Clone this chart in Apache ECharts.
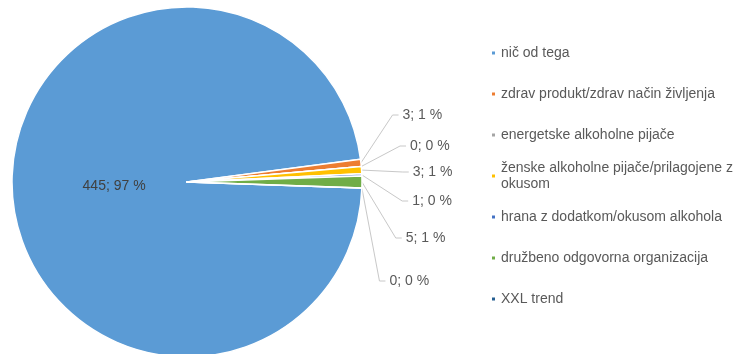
<!DOCTYPE html>
<html>
<head>
<meta charset="utf-8">
<script src="https://cdn.jsdelivr.net/npm/echarts@6/dist/echarts.min.js"></script>
<style>
  html, body { margin: 0; padding: 0; background: #ffffff; }
  #chart { width: 747px; height: 354px; }
</style>
</head>
<body>
<div id="chart"></div>
<script>
// Answers and how many respondents picked each one
const categories = [
  'nič od tega',
  'zdrav produkt/zdrav način življenja',
  'energetske alkoholne pijače',
  'ženske alkoholne pijače/prilagojene z okusom',
  'hrana z dodatkom/okusom alkohola',
  'družbeno odgovorna organizacija',
  'XXL trend'
];
const counts = [445, 3, 0, 3, 1, 5, 0];

// Styling
const sliceColors = ['#5B9BD5', '#ED7D31', '#A5A5A5', '#FFC000', '#4472C4', '#70AD47', '#255E91'];
const FONT = '"Liberation Sans", Arial, sans-serif';
const TEXT = '#595959';
// vertical breathing room around each outside label (drives the spread of the stacked labels)
const outerLabelPad = [0, 7, 6, 5, 9, 13, 15];

const chart = echarts.init(document.getElementById('chart'), null, { renderer: 'canvas' });

const pieData = categories.map((name, i) => {
  const item = { name: name, value: counts[i], itemStyle: { color: sliceColors[i] } };
  if (i === 0) {
    item.label = {
      position: 'inside',
      color: '#404040',
      padding: [22, 0, 0, 35]
    };
  } else {
    item.label = { padding: [outerLabelPad[i], 0, outerLabelPad[i], 0] };
  }
  return item;
});

const legendBase = {
  orient: 'vertical',
  left: 490,
  padding: 0,
  itemWidth: 5,
  itemHeight: 5,
  itemGap: 25,
  icon: 'rect',
  selectedMode: false,
  textStyle: { color: TEXT, fontSize: 14, lineHeight: 16, fontFamily: FONT }
};

const option = {
  backgroundColor: '#ffffff',
  animation: false,
  legend: [
    Object.assign({}, legendBase, { top: 45, data: categories.slice(0, 3) }),
    Object.assign({}, legendBase, {
      top: 152,
      data: categories.slice(3, 4),
      formatter: (name) => name.replace(' okusom', '\nokusom'),
      textStyle: Object.assign({}, legendBase.textStyle, { padding: [16, 0, 0, 0] })
    }),
    Object.assign({}, legendBase, { top: 209, data: categories.slice(4) })
  ],
  series: [{
    type: 'pie',
    left: 0,
    right: 0,
    top: 99,
    bottom: 49,
    center: [187, 83],
    radius: 175,
    startAngle: -2,
    clockwise: true,
    percentPrecision: 0,
    avoidLabelOverlap: true,
    labelLayout: { hideOverlap: false },
    itemStyle: { borderColor: '#ffffff', borderWidth: 1.5 },
    label: {
      show: true,
      position: 'outside',
      formatter: '{c}; {d} %',
      color: TEXT,
      fontSize: 14,
      lineHeight: 16,
      fontFamily: FONT,
      distanceToLabelLine: 4
    },
    labelLine: {
      show: true,
      length: 45,
      length2: 6,
      lineStyle: { color: '#C8C8C8', width: 1 }
    },
    emphasis: { disabled: true },
    data: pieData
  }]
};

chart.setOption(option);
</script>
</body>
</html>
